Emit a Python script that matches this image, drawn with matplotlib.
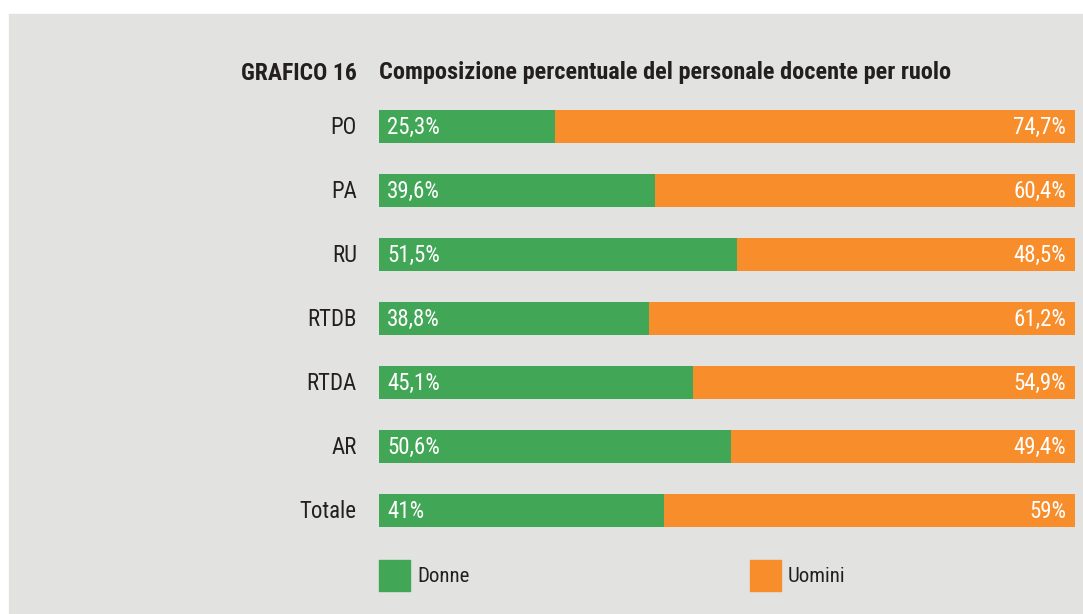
import matplotlib
matplotlib.use("Agg")
import matplotlib.pyplot as plt
from matplotlib.patches import Rectangle

# data
ruoli = ["PO", "PA", "RU", "RTDB", "RTDA", "AR", "Totale"]
donne = [25.3, 39.6, 51.5, 38.8, 45.1, 50.6, 41.0]
uomini = [74.7, 60.4, 48.5, 61.2, 54.9, 49.4, 59.0]
serie = ["Donne", "Uomini"]

GREEN = "#41a655"
ORANGE = "#f78e2b"
BG = "#e2e3e0"
TXT = "#231f20"

plt.rcParams["font.family"] = ["Roboto Condensed", "DejaVu Sans"]

W, H = 1083, 614
fig = plt.figure(figsize=(W / 100, H / 100), dpi=100)
fig.patch.set_facecolor("white")
fig.add_artist(Rectangle((9 / W, 0), 1 - 9 / W, 1 - 14 / H,
                         transform=fig.transFigure, color=BG, zorder=-10))

def fx(px):
    return px / W

def fy(py):
    return 1 - py / H

# axes: category centers at 126.5 + 64*i px
ax = fig.add_axes([fx(379), fy(542.5), fx(1075) - fx(379), (542.5 - 94.5) / H])
ax.set_facecolor("none")
ypos = list(range(len(ruoli)))
bh = 33 / 64
ax.barh(ypos, donne, height=bh, color=GREEN, linewidth=0)
ax.barh(ypos, uomini, left=donne, height=bh, color=ORANGE, linewidth=0)
ax.set_xlim(0, 100)
ax.set_ylim(len(ruoli) - 0.5, -0.5)
ax.axis("off")


def fmt(v):
    if float(v).is_integer():
        return f"{int(v)}%"
    return f"{v:.1f}%".replace(".", ",")


for i, (d, u) in enumerate(zip(donne, uomini)):
    ax.annotate(fmt(d), (0, i), xytext=(6, -0.5), textcoords="offset points",
                ha="left", va="center", color="white", fontsize=16.5)
    ax.annotate(fmt(u), (d + u, i), xytext=(-6.5, -0.5), textcoords="offset points",
                ha="right", va="center", color="white", fontsize=16.5)
    ax.annotate(ruoli[i], (0, i), xytext=(-16, -1), textcoords="offset points",
                ha="right", va="center", color=TXT, fontsize=16.5)

# title
fig.text(fx(357), fy(73), "GRAFICO 16", ha="right", va="center",
         fontsize=17, fontweight="bold", color=TXT)
fig.text(fx(379), fy(73), "Composizione percentuale del personale docente per ruolo",
         ha="left", va="center", fontsize=17.5, fontweight="bold", color=TXT)

# legend
for name, col, x0 in zip(serie, [GREEN, ORANGE], [379, 750]):
    fig.add_artist(Rectangle((fx(x0), fy(591)), 31 / W, 31 / H,
                             transform=fig.transFigure, color=col))
    fig.text(fx(x0 + 38), fy(576), name, ha="left", va="center",
             fontsize=15, color=TXT)

fig.savefig("out.png", dpi=100, facecolor=fig.get_facecolor())
